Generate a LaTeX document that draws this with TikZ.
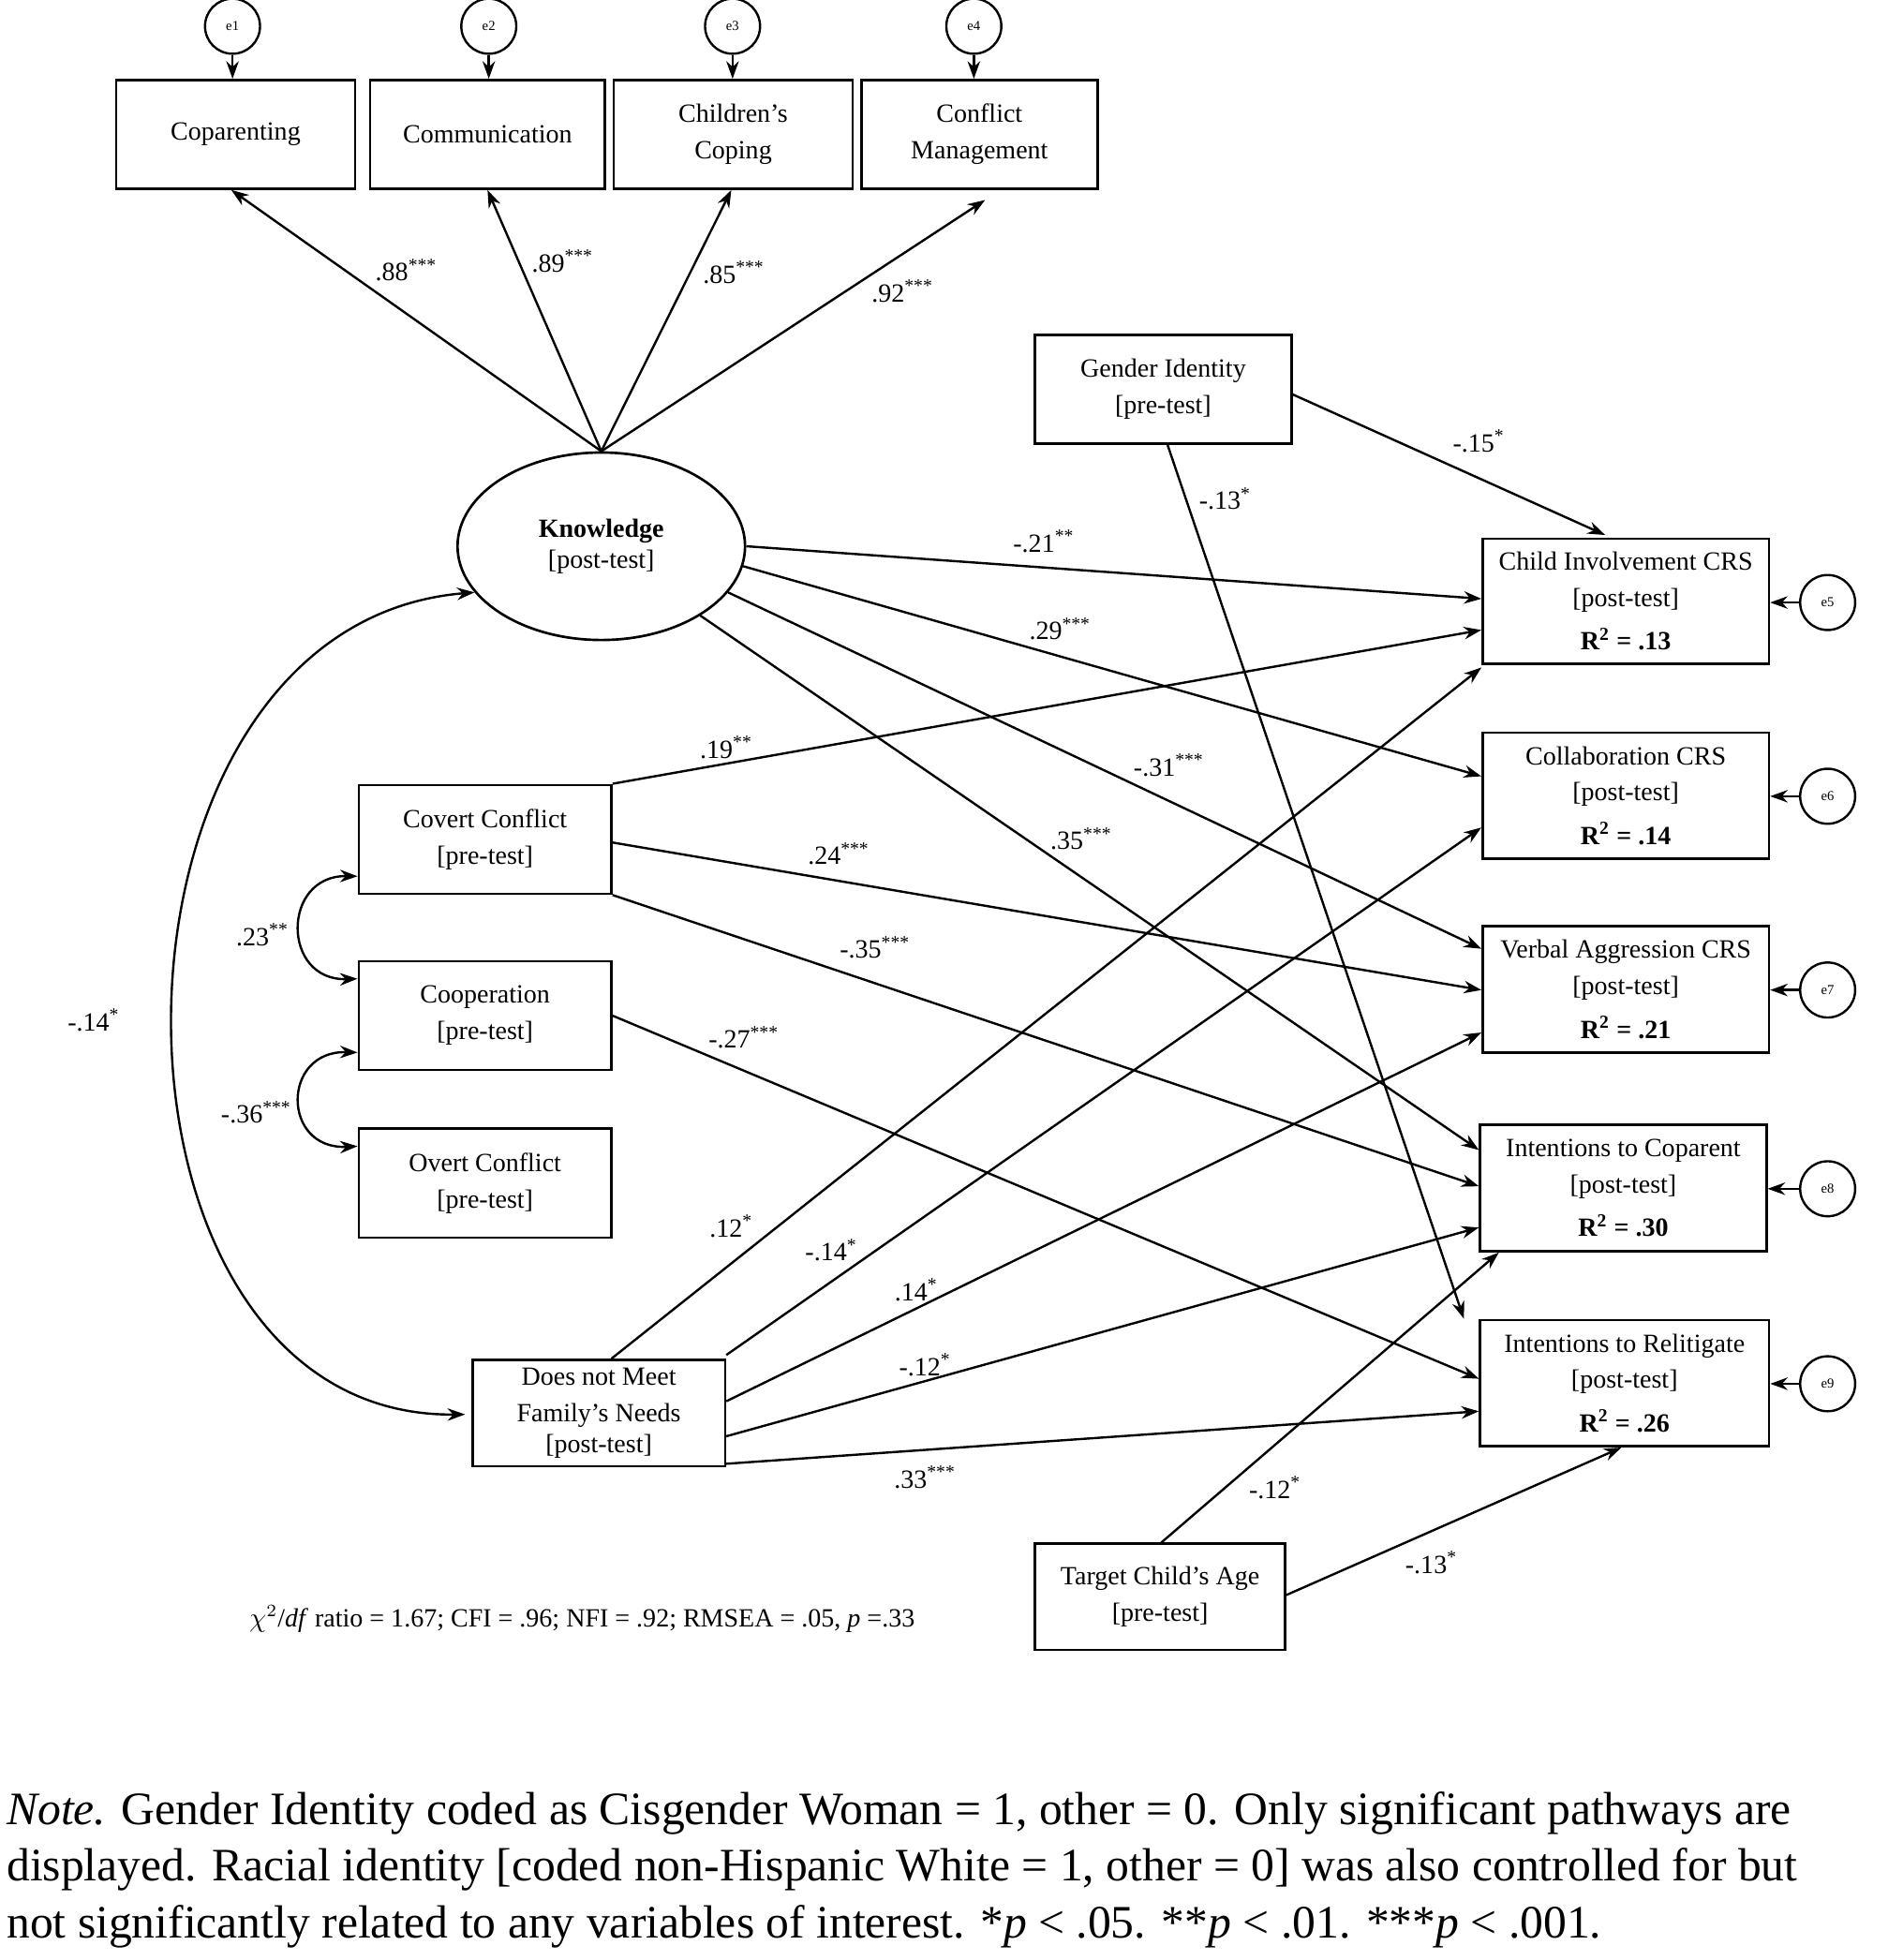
\documentclass[tikz,border=0pt]{standalone}
\usepackage{fontspec}
\setmainfont{Liberation Serif}
\usetikzlibrary{arrows.meta,calc,shapes.geometric}
\begin{document}
\begin{tikzpicture}[x=0.5pt,y=-0.5pt,
  every node/.style={font=\fontsize{10.5}{12.5}\selectfont},
  box/.style={draw,line width=1pt,align=center,inner sep=0pt},
  err/.style={draw,circle,line width=0.9pt,inner sep=0pt,minimum size=22pt,font=\fontsize{5.5}{6}\selectfont},
  arr/.style={line width=0.9pt,-{Stealth[length=7pt,width=5pt]}},
  barr/.style={line width=0.9pt,{Stealth[length=7pt,width=5pt]}-{Stealth[length=7pt,width=5pt]}},
  lbl/.style={inner sep=1pt}]
\useasboundingbox (0,0) rectangle (1522,1568);
% top indicators
\node[box,minimum width=95.5pt,minimum height=43.5pt] (cop) at (188.5,107.5) {Coparenting};
\node[box,minimum width=94pt,minimum height=43.5pt] (com) at (390,107.5) {Communication};
\node[box,minimum width=95.5pt,minimum height=43.5pt] (chc) at (586.5,107.5) {Children's\\[2pt]Coping};
\node[box,minimum width=94.5pt,minimum height=43.5pt] (cfm) at (783.5,107.5) {Conflict\\[2pt]Management};
\node[err] (e1) at (186,21) {e1};
\node[err] (e2) at (391,21) {e2};
\node[err] (e3) at (586,21) {e3};
\node[err] (e4) at (779,21) {e4};
\draw[arr] (e1) -- (e1 |- cop.north);
\draw[arr] (e2) -- (e2 |- com.north);
\draw[arr] (e3) -- (e3 |- chc.north);
\draw[arr] (e4) -- (e4 |- cfm.north);
% knowledge
\node[draw,ellipse,line width=1pt,minimum width=115pt,minimum height=75pt,align=center] (kn) at (481,437) {\textbf{Knowledge}\\{}[post-test]};
\draw[arr] (kn.north) -- ($(cop.south west)+(93,0)$);
\node[lbl] (l1) at (325,216) {.88\textsuperscript{***}};
\draw[arr] (kn.north) -- ($(com.south west)+(95,0)$);
\node[lbl] (l2) at (450,209) {.89\textsuperscript{***}};
\draw[arr] (kn.north) -- ($(chc.south west)+(95,0)$);
\node[lbl] (l3) at (587,218) {.85\textsuperscript{***}};
\draw[arr] (kn.north) -- ($(cfm.south west)+(100,8)$);
\node[lbl] (l4) at (722,233) {.92\textsuperscript{***}};
% other boxes
\node[box,minimum width=102.5pt,minimum height=43.5pt] (gi) at (930.5,311.5) {Gender Identity\\[2pt]{}[pre-test]};
\node[box,minimum width=114.5pt,minimum height=50pt] (ci) at (1300.5,481) {Child Involvement CRS\\[2pt]{}[post-test]\\[5pt]\textbf{R\textsuperscript{2} = .13}};
\node[box,minimum width=114.5pt,minimum height=50.5pt] (col) at (1300.5,636.5) {Collaboration CRS\\[2pt]{}[post-test]\\[5pt]\textbf{R\textsuperscript{2} = .14}};
\node[box,minimum width=114.5pt,minimum height=50.5pt] (va) at (1300.5,791.5) {Verbal Aggression CRS\\[2pt]{}[post-test]\\[5pt]\textbf{R\textsuperscript{2} = .21}};
\node[box,minimum width=114.5pt,minimum height=50.5pt] (ic) at (1298.5,950.5) {Intentions to Coparent\\[2pt]{}[post-test]\\[5pt]\textbf{R\textsuperscript{2} = .30}};
\node[box,minimum width=115.5pt,minimum height=50.5pt] (ir) at (1299.5,1106.5) {Intentions to Relitigate\\[2pt]{}[post-test]\\[5pt]\textbf{R\textsuperscript{2} = .26}};
\node[err] (e5) at (1462,482) {e5};
\node[err] (e6) at (1462,637) {e6};
\node[err] (e7) at (1462,792) {e7};
\node[err] (e8) at (1462,951) {e8};
\node[err] (e9) at (1462,1107) {e9};
\draw[arr] (e5) -- (e5 -| ci.east);
\draw[arr] (e6) -- (e6 -| col.east);
\draw[arr] (e7) -- (e7 -| va.east);
\draw[arr] (e8) -- (e8 -| ic.east);
\draw[arr] (e9) -- (e9 -| ir.east);
\node[box,minimum width=101pt,minimum height=43.5pt] (cov) at (388,671.5) {Covert Conflict\\[2pt]{}[pre-test]};
\node[box,minimum width=101pt,minimum height=43.5pt] (coo) at (388,812.5) {Cooperation\\[2pt]{}[pre-test]};
\node[box,minimum width=101pt,minimum height=43.5pt] (ovc) at (388,946.5) {Overt Conflict\\[2pt]{}[pre-test]};
\node[box,minimum width=101pt,minimum height=42.5pt] (dnm) at (479,1130.5) {Does not Meet\\[2pt]Family's Needs\\{}[post-test]};
\node[box,minimum width=100pt,minimum height=42.5pt] (age) at (928,1277.5) {Target Child's Age\\[2pt]{}[pre-test]};
% knowledge paths
\draw[arr] (kn.east) -- ($(ci.north west)+(0,49)$);
\node[lbl] at (835,433) {-.21\textsuperscript{**}};
\draw[arr] (kn.-8) -- ($(col.north west)+(0,36)$);
\node[lbl] at (848,503) {.29\textsuperscript{***}};
\draw[arr] (kn.-20) -- ($(va.north west)+(0,19)$);
\node[lbl] at (935,612) {-.31\textsuperscript{***}};
\draw[arr] (kn.-35) -- ($(ic.north west)+(0,21)$);
\node[lbl] at (865,671) {.35\textsuperscript{***}};
% gender
\draw[arr] (gi.east) ++(0,4) -- ($(ci.north west)+(99,-2)$);
\node[lbl] at (1183,353) {-.15\textsuperscript{*}};
\draw[arr] ($(gi.south west)+(107,0)$) -- ($(ir.north west)+(-12,0)$);
\node[lbl] at (980,399) {-.13\textsuperscript{*}};
% covert
\draw[arr] (cov.north east) -- ($(ci.north west)+(0,74)$);
\node[lbl] at (581,598) {.19\textsuperscript{**}};
\draw[arr] ($(cov.north east)+(0,47)$) -- ($(va.north west)+(0,52)$);
\node[lbl] at (671,683) {.24\textsuperscript{***}};
\draw[arr] (cov.south east) -- ($(ic.north west)+(0,50)$);
\node[lbl] at (700,758) {-.35\textsuperscript{***}};
\draw[arr] (coo.east) -- ($(ir.north west)+(0,48)$);
\node[lbl] at (595,830) {-.27\textsuperscript{***}};
% dnm
\draw[arr] ($(dnm.north west)+(112,0)$) -- ($(ci.north west)+(0,104)$);
\node[lbl] at (585,981) {.12\textsuperscript{*}};
\draw[arr] ($(dnm.north east)+(0,-3)$) -- ($(col.north west)+(0,77)$);
\node[lbl] at (665,1000) {-.14\textsuperscript{*}};
\draw[arr] ($(dnm.north east)+(0,34)$) -- ($(va.north west)+(0,86)$);
\node[lbl] at (733,1032) {.14\textsuperscript{*}};
\draw[arr] ($(dnm.north east)+(0,62)$) -- ($(ic.north west)+(0,83)$);
\node[lbl] at (740,1092) {-.12\textsuperscript{*}};
\draw[arr] (dnm.south east) ++(0,-3) -- ($(ir.north west)+(0,74)$);
\node[lbl] at (740,1182) {.33\textsuperscript{***}};
% age
\draw[arr] ($(age.north west)+(102,0)$) -- ($(ic.south west)+(16,0)$);
\node[lbl] at (1020,1190) {-.12\textsuperscript{*}};
\draw[arr] ($(age.north east)+(0,42)$) -- ($(ir.south west)+(114,0)$);
\node[lbl] at (1145,1250) {-.13\textsuperscript{*}};
% covariances
\draw[barr] (kn.-160) .. controls (60,500) and (60,1135) .. ($(dnm.west)+(-5,1)$);
\node[lbl] at (75,816) {-.14\textsuperscript{*}};
\draw[barr] ($(cov.south west)+(0,-15)$) .. controls (225,700) and (225,785) .. ($(coo.north west)+(0,15)$);
\node[lbl] at (210,748) {.23\textsuperscript{**}};
\draw[barr] ($(coo.south west)+(0,-15)$) .. controls (225,840) and (225,920) .. ($(ovc.north west)+(0,15)$);
\node[lbl] at (205,890) {-.36\textsuperscript{***}};
% fit
\node[lbl,anchor=west] (fit) at (197,1295) {$\chi^2$/\textit{df} ratio = 1.67; CFI = .96; NFI = .92; RMSEA = .05, \textit{p} =.33};
\node[anchor=north west,align=left,inner sep=0pt,font=\fontsize{18.6}{22.6}\selectfont] (note) at (5,1433) {\textit{Note.} Gender Identity coded as Cisgender Woman = 1, other = 0. Only significant pathways are\\displayed. Racial identity [coded non-Hispanic White = 1, other = 0] was also controlled for but\\not significantly related to any variables of interest. *\textit{p} {\textless} .05. **\textit{p} {\textless} .01. ***\textit{p} {\textless} .001.};
\end{tikzpicture}
\end{document}
